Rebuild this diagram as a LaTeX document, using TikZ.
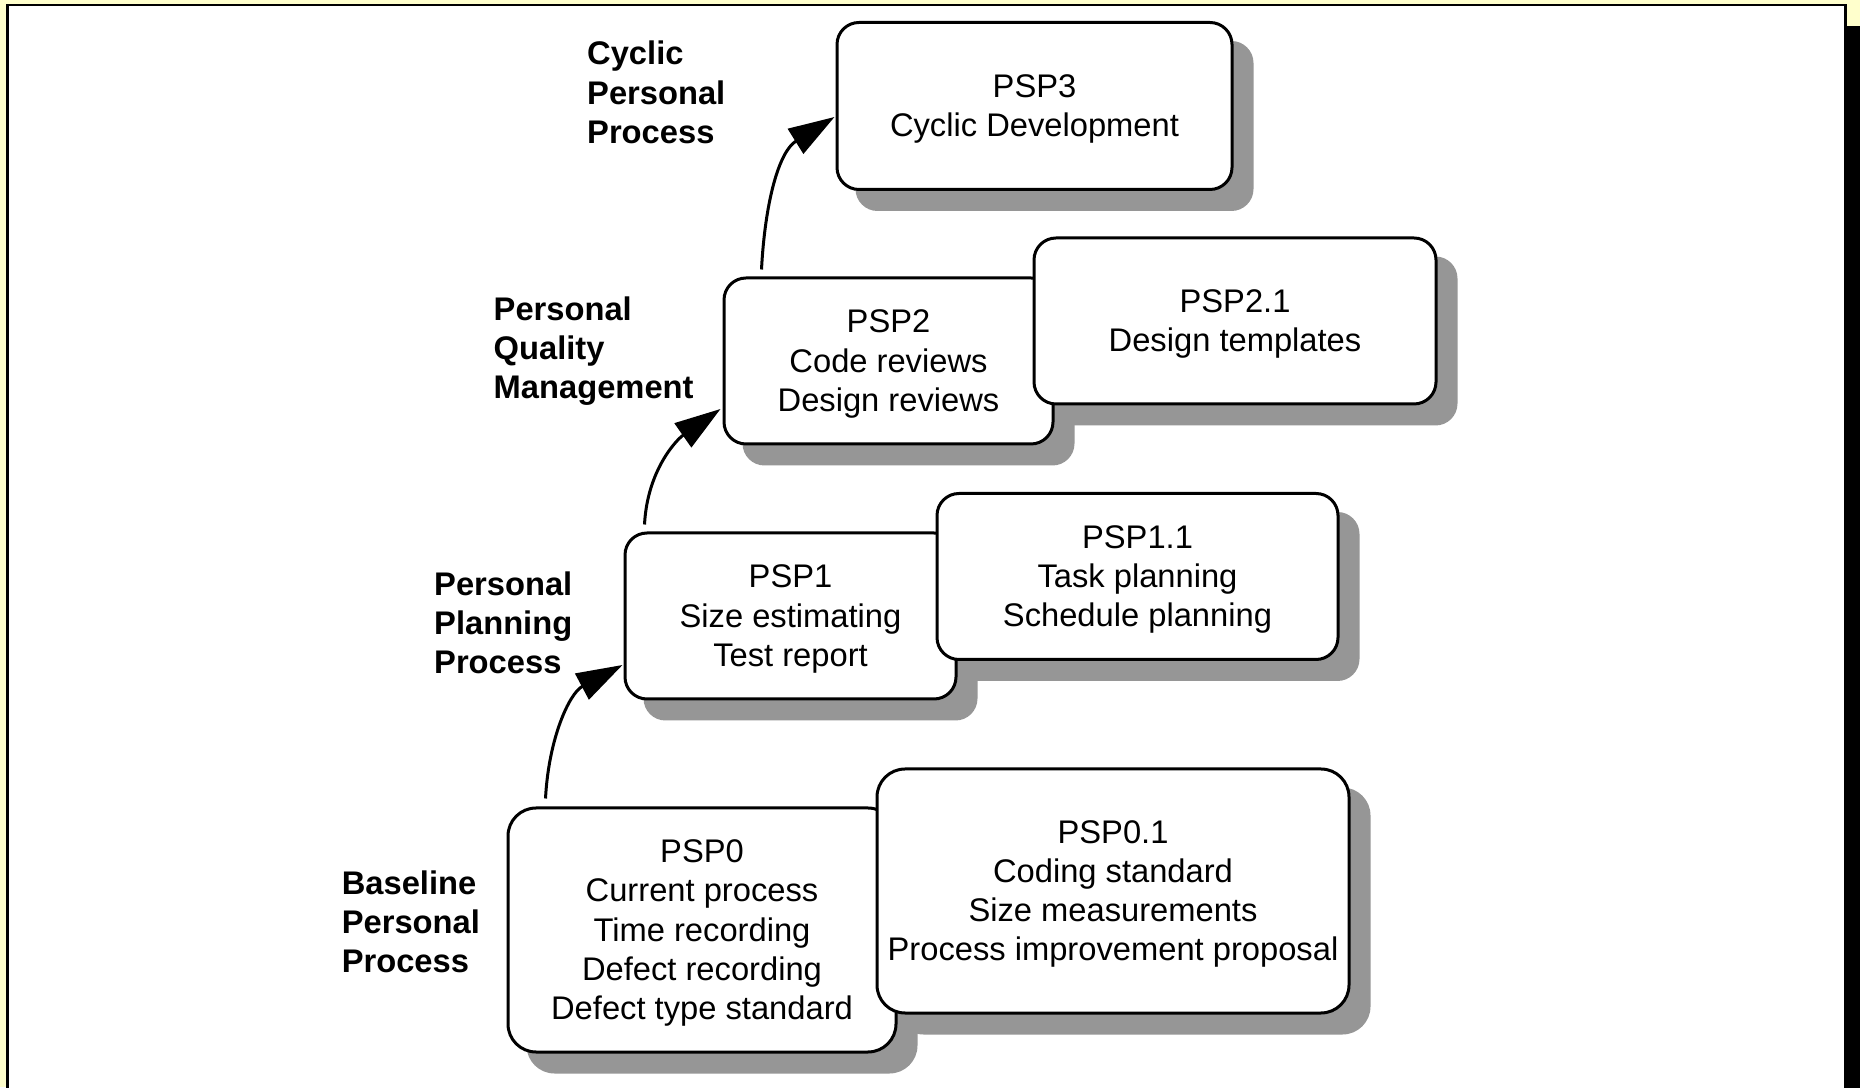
\documentclass[tikz,border=0pt]{standalone}
\usepackage{fontspec}
\setmainfont{Liberation Sans}
\usetikzlibrary{arrows.meta,calc}
\definecolor{slidebg}{RGB}{255,255,204}
\definecolor{shadegray}{RGB}{150,150,150}
\pgfdeclarelayer{back}
\pgfdeclarelayer{shade}
\pgfsetlayers{back,shade,main}

\begin{document}
\begin{tikzpicture}[x=1pt,y=1pt,
  boxtext/.style={inner sep=0pt, align=center, yshift=-3pt,
    font=\fontsize{32.7}{39.3}\selectfont},
  stage/.style={draw=black, line width=3pt, fill=white, rounded corners=22pt,
    inner sep=0pt, minimum height=166pt},
  bigstage/.style={stage, rounded corners=28pt, minimum height=244pt},
  tag/.style={anchor=west, inner sep=0pt, align=left,
    font=\fontsize{32.7}{39.3}\selectfont\bfseries},
  conn/.style={line width=3pt, -{Triangle[length=46pt,width=29pt]}},
]
\useasboundingbox (0,0) rectangle (1860,1087);

% slide background with framed white area and its dark drop shadow
\begin{pgfonlayer}{back}
  \clip (0,0) rectangle (1860,1087);
  \fill[slidebg] (0,0) rectangle (1860,1087);
  \fill[black] (28,-40) rectangle (1867,1061);
  \draw[black, line width=2.5pt, fill=white] (7.5,-40) rectangle (1845.5,1082);
\end{pgfonlayer}

% process stages
\node[bigstage, minimum width=388pt,
  label={[boxtext]center:{PSP0\\Current process\\Time recording\\Defect recording\\Defect type standard}}]
  (psp0) at (702,157) {};
\node[bigstage, minimum width=472pt,
  label={[boxtext]center:{PSP0.1\\Coding standard\\Size measurements\\Process improvement proposal}}]
  (psp01) at (1113,196) {};
\node[stage, minimum width=331pt,
  label={[boxtext]center:{PSP1\\Size estimating\\Test report}}]
  (psp1) at (790.5,471) {};
\node[stage, minimum width=401pt,
  label={[boxtext]center:{PSP1.1\\Task planning\\Schedule planning}}]
  (psp11) at (1137.5,510.5) {};
\node[stage, minimum width=329pt,
  label={[boxtext]center:{PSP2\\Code reviews\\Design reviews}}]
  (psp2) at (888.5,726) {};
\node[stage, minimum width=402pt,
  label={[boxtext]center:{PSP2.1\\Design templates}}]
  (psp21) at (1235,766) {};
\node[stage, minimum width=395pt, minimum height=167pt,
  label={[boxtext]center:{PSP3\\Cyclic Development}}]
  (psp3) at (1034.5,981) {};

% box shadows, kept behind every box
\begin{pgfonlayer}{shade}
  \foreach \n in {psp1,psp11,psp2,psp21,psp3}
    \fill[shadegray, rounded corners=22pt]
      ($(\n.south west)+(20,-20)$) rectangle ($(\n.north east)+(20,-20)$);
  \foreach \n in {psp0,psp01}
    \fill[shadegray, rounded corners=28pt]
      ($(\n.south west)+(20,-20)$) rectangle ($(\n.north east)+(20,-20)$);
\end{pgfonlayer}

% level names
\node[tag] (lcyc) at (587,994.5) {Cyclic\\Personal\\Process};
\node[tag] (lpqm) at (493.5,736) {Personal\\Quality\\Management};
\node[tag] (lppp) at (434,464.3) {Personal\\Planning\\Process};
\node[tag] (lbpp) at (341.6,165.3) {Baseline\\Personal\\Process};

% steps up the ladder
\draw[conn] ($(psp0.north west)+(39,8)$) to[out=87,in=208] ($(psp1.west)+(-1,-49)$);
\draw[conn] ($(psp1.north west)+(21,7)$) to[out=87,in=215] ($(psp2.west)+(-2,-48)$);
\draw[conn] ($(psp2.north west)+(39,7)$) to[out=87,in=212] ($(psp3.west)+(-1,-11)$);
\end{tikzpicture}
\end{document}
